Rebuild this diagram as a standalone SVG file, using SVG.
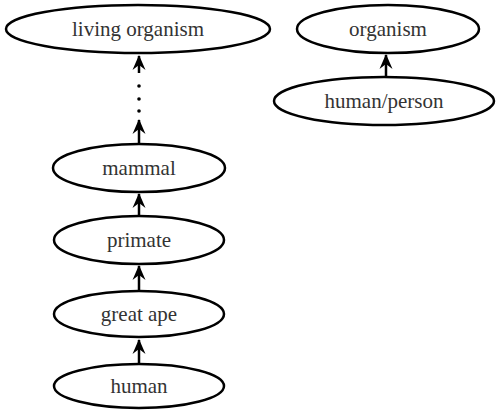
<svg xmlns="http://www.w3.org/2000/svg" width="496" height="410" viewBox="0 0 496 410">
<style>
.n ellipse{fill:#fff;stroke:#000;stroke-width:2.5}
.n text{fill:#333;text-anchor:middle;font-family:"Liberation Serif","Times New Roman",serif;font-size:21px}
.e line{stroke:#000;stroke-width:2.5}
</style>
<defs>
<marker id="ah" viewBox="0 0 15 14" refX="14" refY="7" markerWidth="15" markerHeight="14" markerUnits="userSpaceOnUse" orient="auto">
<path d="M15,7 L0,0.5 L5,7 L0,13.5 Z" fill="#000"/>
</marker>
</defs>
<rect width="496" height="410" fill="#fff"/>
<g class="e">
<line x1="139" y1="73" x2="139" y2="56" marker-end="url(#ah)"/>
<circle cx="139" cy="86" r="1.8"/>
<circle cx="139" cy="99" r="1.8"/>
<circle cx="139" cy="111" r="1.8"/>
<line x1="139" y1="144" x2="139" y2="120" marker-end="url(#ah)"/>
<line x1="139" y1="216" x2="139" y2="194" marker-end="url(#ah)"/>
<line x1="139" y1="290" x2="139" y2="266" marker-end="url(#ah)"/>
<line x1="139" y1="363" x2="139" y2="340" marker-end="url(#ah)"/>
<line x1="386" y1="77" x2="386" y2="55" marker-end="url(#ah)"/>
</g>
<g id="living" class="n"><ellipse cx="138" cy="29" rx="132" ry="24"/><text x="138" y="36">living organism</text></g>
<g id="organism" class="n"><ellipse cx="388" cy="29" rx="91" ry="24"/><text x="388" y="36">organism</text></g>
<g id="humanperson" class="n"><ellipse cx="384" cy="101" rx="110" ry="24"/><text x="384" y="108">human/person</text></g>
<g id="mammal" class="n"><ellipse cx="139" cy="168" rx="86" ry="24"/><text x="139" y="175">mammal</text></g>
<g id="primate" class="n"><ellipse cx="139" cy="240" rx="85" ry="24"/><text x="139" y="247">primate</text></g>
<g id="greatape" class="n"><ellipse cx="139" cy="314" rx="85" ry="23"/><text x="139" y="321">great ape</text></g>
<g id="human" class="n"><ellipse cx="139" cy="386" rx="85" ry="22"/><text x="139" y="393">human</text></g>
</svg>
